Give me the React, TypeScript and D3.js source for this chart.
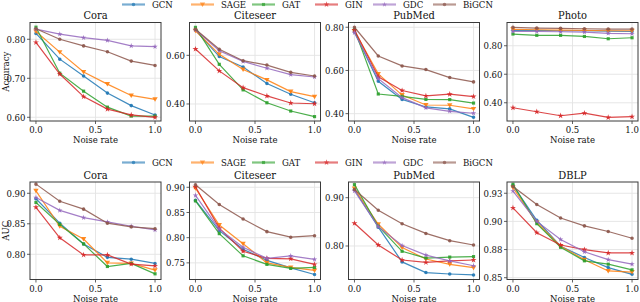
import React from 'react';
import * as d3 from 'd3';

const noiseRates = [0, 0.2, 0.4, 0.6, 0.8, 1.0];
const methods = ['GCN', 'SAGE', 'GAT', 'GIN', 'GDC', 'BiGCN'];
const colors = ['#1f77b4', '#ff7f0e', '#2ca02c', '#d62728', '#9467bd', '#8c564b'];

// rows follow the methods order: GCN, SAGE, GAT, GIN, GDC, BiGCN
const coraAcc = [
  [0.815, 0.749, 0.706, 0.662, 0.630, 0.606],
  [0.820, 0.767, 0.716, 0.685, 0.656, 0.646],
  [0.831, 0.713, 0.667, 0.626, 0.603, 0.603],
  [0.792, 0.711, 0.653, 0.621, 0.606, 0.600],
  [0.826, 0.813, 0.804, 0.797, 0.783, 0.781],
  [0.827, 0.800, 0.783, 0.768, 0.744, 0.733],
];
const citeseerAcc = [
  [0.704, 0.595, 0.552, 0.484, 0.440, 0.405],
  [0.701, 0.604, 0.542, 0.499, 0.451, 0.430],
  [0.715, 0.563, 0.458, 0.405, 0.371, 0.348],
  [0.626, 0.536, 0.467, 0.433, 0.404, 0.401],
  [0.705, 0.619, 0.575, 0.547, 0.521, 0.511],
  [0.707, 0.625, 0.578, 0.560, 0.530, 0.515],
];
const pubmedAcc = [
  [0.778, 0.550, 0.466, 0.431, 0.422, 0.383],
  [0.783, 0.584, 0.486, 0.440, 0.439, 0.422],
  [0.790, 0.491, 0.480, 0.466, 0.465, 0.449],
  [0.788, 0.571, 0.507, 0.482, 0.490, 0.479],
  [0.775, 0.562, 0.474, 0.427, 0.411, 0.402],
  [0.800, 0.667, 0.621, 0.604, 0.567, 0.547],
];
const photoAcc = [
  [0.908, 0.908, 0.905, 0.905, 0.903, 0.900],
  [0.915, 0.912, 0.910, 0.908, 0.905, 0.905],
  [0.882, 0.873, 0.873, 0.865, 0.849, 0.856],
  [0.365, 0.337, 0.309, 0.327, 0.297, 0.302],
  [0.900, 0.900, 0.898, 0.896, 0.887, 0.884],
  [0.929, 0.924, 0.922, 0.919, 0.917, 0.917],
];
const coraAuc = [
  [0.891, 0.851, 0.817, 0.795, 0.792, 0.785],
  [0.904, 0.846, 0.825, 0.786, 0.785, 0.774],
  [0.885, 0.849, 0.817, 0.780, 0.785, 0.768],
  [0.877, 0.827, 0.799, 0.799, 0.784, 0.781],
  [0.893, 0.872, 0.860, 0.853, 0.846, 0.840],
  [0.915, 0.887, 0.874, 0.851, 0.845, 0.842],
];
const citeseerAuc = [
  [0.874, 0.814, 0.777, 0.755, 0.740, 0.727],
  [0.898, 0.825, 0.788, 0.750, 0.741, 0.735],
  [0.873, 0.808, 0.764, 0.747, 0.739, 0.741],
  [0.901, 0.819, 0.773, 0.759, 0.758, 0.747],
  [0.884, 0.817, 0.781, 0.759, 0.764, 0.757],
  [0.905, 0.866, 0.837, 0.812, 0.801, 0.804],
];
const pubmedAuc = [
  [0.917, 0.839, 0.767, 0.745, 0.742, 0.740],
  [0.919, 0.845, 0.797, 0.773, 0.762, 0.755],
  [0.927, 0.841, 0.789, 0.775, 0.777, 0.778],
  [0.847, 0.802, 0.771, 0.766, 0.769, 0.771],
  [0.914, 0.840, 0.801, 0.781, 0.769, 0.759],
  [0.917, 0.874, 0.846, 0.826, 0.811, 0.802],
];
const dblpAuc = [
  [0.932, 0.901, 0.878, 0.868, 0.859, 0.853],
  [0.930, 0.899, 0.878, 0.866, 0.856, 0.855],
  [0.933, 0.898, 0.877, 0.865, 0.862, 0.857],
  [0.912, 0.890, 0.879, 0.875, 0.872, 0.872],
  [0.927, 0.900, 0.884, 0.873, 0.866, 0.862],
  [0.931, 0.915, 0.903, 0.896, 0.891, 0.885],
];

const xTicks = [0, 0.5, 1.0];
const xTickLabels = ['0.0', '0.5', '1.0'];

const panels = [
  { title: 'Cora', row: 0, col: 0, series: coraAcc, domain: [0.5905, 0.843], ticks: [0.6, 0.7, 0.8], labels: ['0.60', '0.70', '0.80'] },
  { title: 'Citeseer', row: 0, col: 1, series: citeseerAcc, domain: [0.33, 0.735], ticks: [0.4, 0.6], labels: ['0.40', '0.60'] },
  { title: 'PubMed', row: 0, col: 2, series: pubmedAcc, domain: [0.366, 0.822], ticks: [0.4, 0.6, 0.8], labels: ['0.40', '0.60', '0.80'] },
  { title: 'Photo', row: 0, col: 3, series: photoAcc, domain: [0.272, 0.963], ticks: [0.4, 0.6, 0.8], labels: ['0.40', '0.60', '0.80'] },
  { title: 'Cora', row: 1, col: 0, series: coraAuc, domain: [0.7587, 0.9185], ticks: [0.8, 0.85, 0.9], labels: ['0.80', '0.85', '0.90'] },
  { title: 'Citeseer', row: 1, col: 1, series: citeseerAuc, domain: [0.717, 0.9105], ticks: [0.75, 0.8, 0.85, 0.9], labels: ['0.75', '0.80', '0.85', '0.90'] },
  { title: 'PubMed', row: 1, col: 2, series: pubmedAuc, domain: [0.7306, 0.9325], ticks: [0.8, 0.9], labels: ['0.80', '0.90'] },
  { title: 'DBLP', row: 1, col: 3, series: dblpAuc, domain: [0.8484, 0.935], ticks: [0.85, 0.875, 0.9, 0.925], labels: ['0.85', '0.88', '0.90', '0.93'] },
];

const rowLabels = ['Accuracy', 'AUC'];

const FONT = 'DejaVu Serif Condensed, DejaVu Serif, serif';
const panelLeft = [30, 189.5, 348.5, 507];
const panelWidth = 131;
const rowTop = [22.5, 182];
const panelHeight = [98.5, 97.5];
const legendY = [4.5, 162.5];
const legendTextX = [152, 221, 282, 345, 403, 463];

const triangleDown = {
  draw(ctx: any, size: number) {
    const s = Math.sqrt(size / 0.6);
    ctx.moveTo(0, s * 0.55);
    ctx.lineTo(s * 0.6, -s * 0.45);
    ctx.lineTo(-s * 0.6, -s * 0.45);
    ctx.closePath();
  },
};
const markerTypes: any[] = [d3.symbolCircle, triangleDown, d3.symbolSquare, d3.symbolStar, d3.symbolStar, d3.symbolCircle];
const markerSizes = [10, 12, 10, 11, 9, 10];

function markerPath(i: number) {
  return d3.symbol().type(markerTypes[i]).size(markerSizes[i])() as string;
}

function Panel({ p }: { p: (typeof panels)[number] }) {
  const left = panelLeft[p.col];
  const top = rowTop[p.row];
  const h = panelHeight[p.row];
  const x = d3.scaleLinear().domain([-0.05, 1.05]).range([left, left + panelWidth]);
  const y = d3.scaleLinear().domain(p.domain).range([top + h, top]);
  const line = d3
    .line<number>()
    .x((_, i) => x(noiseRates[i]))
    .y((d) => y(d));

  return (
    <g>
      {xTicks.map((t) => (
        <line key={'gx' + t} x1={x(t)} x2={x(t)} y1={top} y2={top + h} stroke="#e3e3e3" strokeWidth={0.9} />
      ))}
      {p.ticks.map((t) => (
        <line key={'gy' + t} x1={left} x2={left + panelWidth} y1={y(t)} y2={y(t)} stroke="#e3e3e3" strokeWidth={0.9} />
      ))}
      {p.series.map((vals, si) => (
        <g key={methods[si]}>
          <path d={line(vals) as string} fill="none" stroke={colors[si]} strokeOpacity={0.85} strokeWidth={1.2} />
          {vals.map((v, i) => (
            <path
              key={i}
              d={markerPath(si)}
              transform={`translate(${x(noiseRates[i])},${y(v)})`}
              fill={colors[si]}
              fillOpacity={0.9}
            />
          ))}
        </g>
      ))}
      <rect x={left} y={top} width={panelWidth} height={h} fill="none" stroke="#3a3a3a" strokeWidth={1} />
      {p.ticks.map((t, i) => (
        <g key={'ty' + t}>
          <line x1={left - 3} x2={left} y1={y(t)} y2={y(t)} stroke="#3a3a3a" strokeWidth={0.8} />
          <text x={left - 4.5} y={y(t)} dy="0.35em" textAnchor="end" fontSize={9.5} fill="#111">
            {p.labels[i]}
          </text>
        </g>
      ))}
      {xTicks.map((t, i) => (
        <g key={'tx' + t}>
          <line x1={x(t)} x2={x(t)} y1={top + h} y2={top + h + 3} stroke="#3a3a3a" strokeWidth={0.8} />
          <text x={x(t)} y={top + h + 12} textAnchor="middle" fontSize={9.5} fill="#111">
            {xTickLabels[i]}
          </text>
        </g>
      ))}
      <text x={left + panelWidth / 2} y={top + h + 22} textAnchor="middle" fontSize={9.5} fill="#111">
        Noise rate
      </text>
      <text x={left + panelWidth / 2} y={top - 3.5} textAnchor="middle" fontSize={11} fill="#111">
        {p.title}
      </text>
    </g>
  );
}

function Legend({ cy }: { cy: number }) {
  return (
    <g>
      {methods.map((m, i) => {
        const tx = legendTextX[i];
        return (
          <g key={m}>
            <line x1={tx - 30} x2={tx - 7} y1={cy} y2={cy} stroke={colors[i]} strokeOpacity={0.6} strokeWidth={2.2} />
            <path d={markerPath(i)} transform={`translate(${tx - 18.5},${cy})`} fill={colors[i]} fillOpacity={0.7} />
            <text x={tx} y={cy} dy="0.36em" fontSize={9.5} fill="#111">
              {m}
            </text>
          </g>
        );
      })}
    </g>
  );
}

export default function App() {
  return (
    <svg width={640} height={302} style={{ position: 'absolute', left: 0, top: 0, background: '#fff' }}>
      <g fontFamily={FONT}>
        {rowLabels.map((lab, r) => (
          <text
            key={lab}
            transform={`translate(9,${rowTop[r] + panelHeight[r] / 2}) rotate(-90)`}
            textAnchor="middle"
            fontSize={9.5}
            fill="#111"
          >
            {lab}
          </text>
        ))}
        {panels.map((p, i) => (
          <Panel key={i} p={p} />
        ))}
        {legendY.map((cy) => (
          <Legend key={cy} cy={cy} />
        ))}
      </g>
    </svg>
  );
}
